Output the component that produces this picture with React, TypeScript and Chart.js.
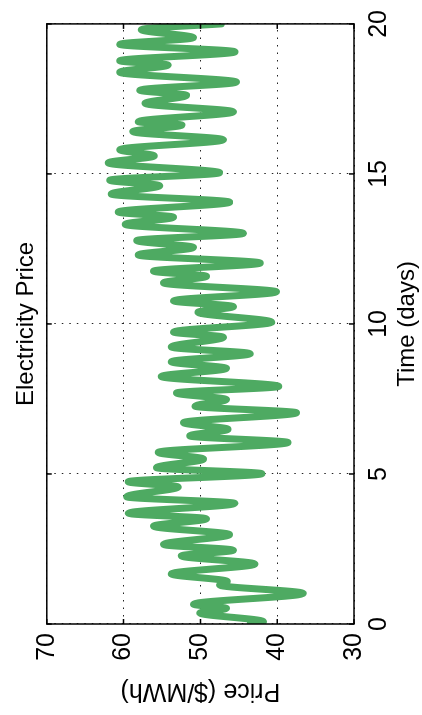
import React, { useEffect, useRef } from 'react';
import { Chart, registerables } from 'chart.js';

Chart.register(...registerables);

// Data (turning points of the price trace)
const timeDays = [
  0, 0.08, 0.37, 0.52, 0.66, 1.02, 1.3, 1.42, 1.67, 2.0,
  2.27, 2.46, 2.65, 2.98, 3.26, 3.51, 3.69, 4.02, 4.24, 4.57,
  4.74, 5.01, 5.21, 5.5, 5.72, 6.05, 6.27, 6.49, 6.71, 7.04,
  7.26, 7.48, 7.7, 7.92, 8.25, 8.52, 8.74, 9.01, 9.23, 9.56,
  9.73, 10.06, 10.39, 10.58, 10.77, 11.07, 11.37, 11.59, 11.76, 12.03,
  12.3, 12.55, 12.78, 13.02, 13.32, 13.56, 13.73, 14.06, 14.33, 14.61,
  14.79, 15.04, 15.37, 15.6, 15.81, 16.14, 16.41, 16.63, 16.74, 17.07,
  17.35, 17.62, 17.79, 18.06, 18.39, 18.63, 18.77, 19.07, 19.32, 19.54,
  19.81, 20.0,
];
const priceUSDperMWh = [
  43.5, 41.8, 50.1, 46.6, 50.9, 36.6, 47.5, 46.5, 53.8, 42.9,
  52.5, 45.7, 54.8, 46.2, 56.1, 49.2, 59.4, 45.5, 59.6, 52.9,
  59.4, 42.0, 55.7, 49.6, 55.5, 38.6, 51.4, 46.4, 52.2, 37.5,
  50.7, 46.6, 53.1, 39.8, 55.1, 46.6, 53.8, 43.5, 53.8, 47.0,
  53.5, 40.7, 50.3, 45.7, 53.5, 40.1, 54.8, 49.2, 56.1, 42.2,
  58.1, 50.9, 58.3, 44.4, 59.8, 53.5, 60.7, 46.2, 61.6, 55.3,
  61.8, 47.5, 62.0, 56.0, 60.5, 47.0, 58.8, 52.4, 58.1, 45.7,
  57.2, 51.8, 57.9, 45.3, 60.5, 54.2, 60.5, 45.5, 60.5, 50.9,
  57.7, 47.3,
];
const timeTicks = [0, 5, 10, 15, 20];
const priceTicks = [30, 40, 50, 60, 70];
const chartTitle = 'Electricity Price';
const xTitle = 'Time (days)';
const yTitle = 'Price ($/MWh)';

const W = 715;
const H = 422;
const FONT = "'Liberation Sans', Arial, Helvetica, sans-serif";
const LINE_COLOR = 'rgb(78,170,98)';

const boxPlugin = {
  id: 'boxAndInnerTicks',
  afterDatasetsDraw(chart: any) {
    const { ctx, chartArea: a, scales } = chart;
    ctx.save();
    ctx.strokeStyle = '#000';
    ctx.lineWidth = 1.5;
    ctx.strokeRect(a.left, a.top, a.right - a.left, a.bottom - a.top);
    const L = 5;
    ctx.beginPath();
    for (const v of timeTicks) {
      const x = scales.x.getPixelForValue(v);
      ctx.moveTo(x, a.bottom);
      ctx.lineTo(x, a.bottom - L);
      ctx.moveTo(x, a.top);
      ctx.lineTo(x, a.top + L);
    }
    for (const v of priceTicks) {
      const y = scales.y.getPixelForValue(v);
      ctx.moveTo(a.left, y);
      ctx.lineTo(a.left + L, y);
      ctx.moveTo(a.right, y);
      ctx.lineTo(a.right - L, y);
    }
    ctx.stroke();
    ctx.restore();
  },
};

export default function App() {
  const ref = useRef<HTMLCanvasElement | null>(null);

  useEffect(() => {
    if (!ref.current) return;
    const chart = new Chart(ref.current, {
      type: 'line',
      data: {
        datasets: [
          {
            data: timeDays.map((t, i) => ({ x: t, y: priceUSDperMWh[i] })),
            borderColor: LINE_COLOR,
            borderWidth: 7,
            pointRadius: 0,
            fill: false,
            cubicInterpolationMode: 'monotone',
            borderJoinStyle: 'round',
            borderCapStyle: 'round',
            clip: 0,
          } as any,
        ],
      },
      options: {
        responsive: false,
        animation: false,
        layout: { padding: { left: 0, right: 16, top: 0, bottom: 0 } },
        plugins: {
          legend: { display: false },
          tooltip: { enabled: false },
          title: {
            display: true,
            fullSize: false,
            text: chartTitle,
            color: '#000',
            font: { family: FONT, size: 24, weight: 'normal' },
            padding: { top: 12, bottom: 6 },
          },
        },
        scales: {
          x: {
            type: 'linear',
            min: 0,
            max: 20,
            afterBuildTicks: (s: any) => {
              s.ticks = timeTicks.map((v) => ({ value: v }));
            },
            afterFit: (s: any) => {
              s.height = 68;
            },
            ticks: {
              color: '#000',
              font: { family: FONT, size: 25 },
              padding: 10,
              maxRotation: 0,
            },
            grid: { color: '#222', lineWidth: 1, drawTicks: false },
            border: { display: false, dash: [1.5, 6] },
            title: {
              display: true,
              text: xTitle,
              color: '#000',
              font: { family: FONT, size: 24 },
              padding: { top: 0, bottom: 0 },
            },
          },
          y: {
            type: 'linear',
            min: 30,
            max: 70,
            afterBuildTicks: (s: any) => {
              s.ticks = priceTicks.map((v) => ({ value: v }));
            },
            afterFit: (s: any) => {
              s.width = 91;
            },
            ticks: {
              color: '#000',
              font: { family: FONT, size: 25 },
              padding: 9,
            },
            grid: { color: '#222', lineWidth: 1, drawTicks: false },
            border: { display: false, dash: [1.5, 6] },
            title: {
              display: true,
              text: yTitle,
              color: '#000',
              font: { family: FONT, size: 25 },
              padding: { top: 9, bottom: 0 },
            },
          },
        },
      },
      plugins: [boxPlugin],
    } as any);
    return () => chart.destroy();
  }, []);

  return (
    <div
      style={{
        position: 'fixed',
        left: 0,
        top: 0,
        width: W,
        height: H,
        background: '#fff',
        transformOrigin: '0 0',
        transform: `translateY(${W}px) rotate(-90deg)`,
      }}
    >
      <canvas ref={ref} width={W} height={H} style={{ display: 'block' }} />
    </div>
  );
}
